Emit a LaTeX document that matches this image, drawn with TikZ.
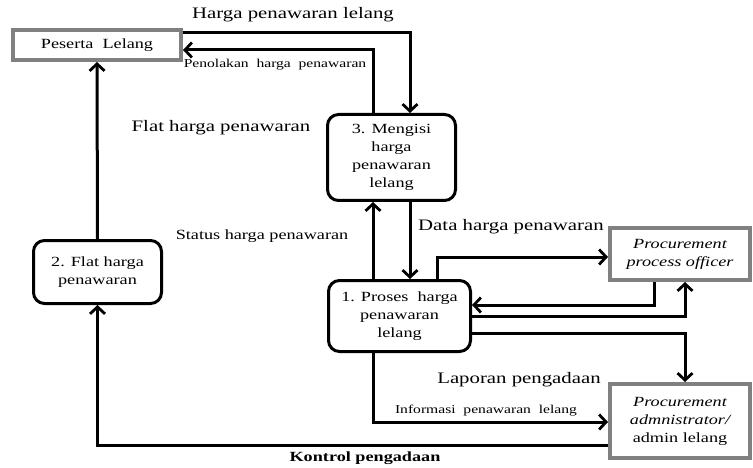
\documentclass[tikz,border=0pt]{standalone}
\usepackage{fontspec}
\setmainfont{Liberation Serif}[FakeStretch=1.3,
  BoldFont={Liberation Serif Bold},
  ItalicFont={Liberation Serif Italic},
  BoldItalicFont={Liberation Serif Bold Italic}]
\usetikzlibrary{arrows.meta}
\definecolor{boxgray}{HTML}{808080}
\tikzset{
  ext/.style={draw=boxgray, line width=4pt, rectangle, inner sep=0pt, fill=white,
    font=\fontsize{14}{18}\selectfont, align=center},
  proc/.style={draw=black, line width=3pt, rectangle, rounded corners=11pt, inner sep=0pt,
    font=\fontsize{14}{18}\selectfont, align=center},
  arr/.style={draw=black, line width=3pt, -{Straight Barb[length=7pt,width=15pt,line width=2.8pt]}},
  lbl/.style={font=\fontsize{16}{19}\selectfont, inner sep=0pt},
  lblm/.style={font=\fontsize{14}{17}\selectfont, inner sep=0pt},
  lbls/.style={font=\fontsize{12}{14}\selectfont, inner sep=0pt},
  lblb/.style={font=\fontsize{14}{16}\selectfont\bfseries, inner sep=0pt}
}
\begin{document}
\begin{tikzpicture}[x=1pt,y=-1pt]
\useasboundingbox (0,0) rectangle (753,468);
% nodes
\node[ext, minimum width=168pt, minimum height=30pt] (peserta) at (97,45) {Peserta\ \ Lelang};
\node[proc, minimum width=128pt, minimum height=86pt] (p3) at (391.5,157.5) {3. Mengisi\\harga\\penawaran\\lelang};
\node[proc, minimum width=128pt, minimum height=63pt] (p2) at (97.5,272) {2. Flat harga\\penawaran};
\node[proc, minimum width=142pt, minimum height=71pt] (p1) at (399.5,316) {1. Proses\ \ harga\\penawaran\\lelang};
\node[ext, minimum width=140pt, minimum height=52pt] (ppo) at (680,254) {\itshape Procurement\\\itshape process officer};
\node[ext, minimum width=140pt, minimum height=74pt] (adm) at (680,421) {\itshape Procurement\\\itshape admnistrator/\\admin lelang};
% connectors
\draw[arr] ([yshift=-5pt]peserta.north east) -| ([xshift=18.5pt]p3.north);
\draw[arr] ([xshift=-18.5pt]p3.north) |- ([yshift=-5pt]peserta.east);
\draw[arr] (p2.north) -- (peserta.south);
\draw[arr] ([xshift=18.5pt]p3.south) -- ([xshift=18.5pt]p3.south |- p1.north);
\draw[arr] ([xshift=-18.5pt]p3.south |- p1.north) -- ([xshift=-18.5pt]p3.south);
\draw[arr] ([xshift=37.5pt]p1.north) |- ([yshift=-3pt]ppo.west);
\draw[arr] ([xshift=-26pt]ppo.south) |- ([yshift=11pt]p1.east);
\draw[arr] (p1.east) -| ([xshift=5pt]ppo.south);
\draw[arr] ([yshift=-17pt]p1.east) -| ([xshift=5pt]adm.north);
\draw[arr] ([xshift=-26.5pt]p1.south) |- ([yshift=-1pt]adm.west);
\draw[arr] ([yshift=-24pt]adm.west) -| (p2.south);
% labels
\node[lbl] (l1) at (293,15) {Harga penawaran lelang};
\node[lbls] (l2) at (275,65) {Penolakan\ \ harga\ \ penawaran};
\node[lbl] (l3) at (221,128) {Flat harga penawaran};
\node[lblm] (l4) at (262,236) {Status harga penawaran};
\node[lbl] (l5) at (511,227) {Data harga penawaran};
\node[lbl] (l6) at (519,380) {Laporan pengadaan};
\node[lbls] (l7) at (486,411) {Informasi\ \ penawaran\ \ lelang};
\node[lblb] (l8) at (365,458) {Kontrol pengadaan};
\end{tikzpicture}
\end{document}
